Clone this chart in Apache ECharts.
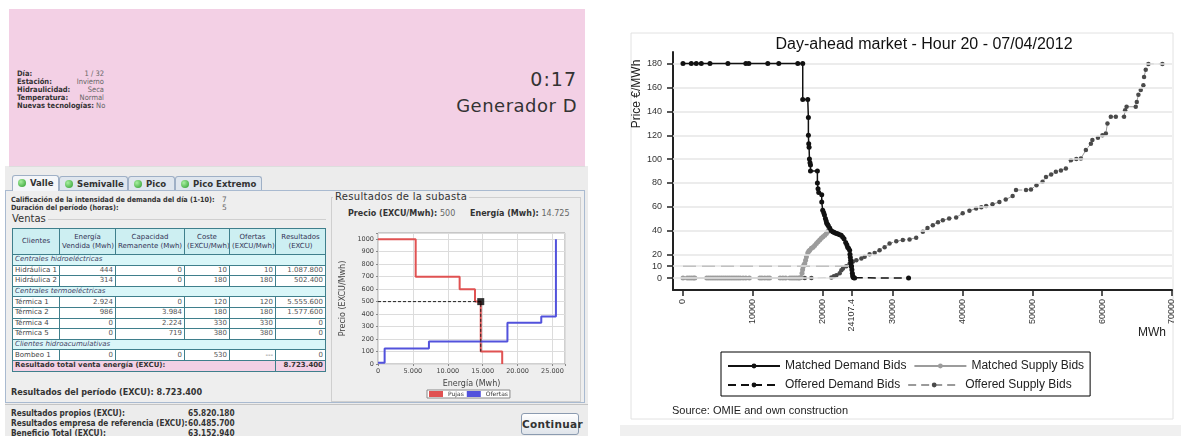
<!DOCTYPE html>
<html>
<head>
<meta charset="utf-8">
<script src="https://cdn.jsdelivr.net/npm/echarts@6/dist/echarts.min.js"></script>
<style>
  body { margin: 0; width: 1181px; height: 436px; overflow: hidden; background: #fff; font-family: "DejaVu Sans", sans-serif; position: relative; }
  .abs { position: absolute; white-space: nowrap; }
  .cond { font-family: "DejaVu Sans Condensed", "DejaVu Sans", sans-serif; font-stretch: condensed; }
  #pink { left: 9px; top: 9px; width: 576px; height: 157px; background: #f3d0e5; border-bottom: 1px solid #ddd; }
  #info { left: 17px; top: 70px; font-size: 7.5px; line-height: 8px; color: #333; }
  #info .l { font-weight: bold; display: inline-block; width: 56px; }
  #info .v { display: inline-block; width: 31px; text-align: right; color: #666; }
  #clock { right: 604px; top: 68px; font-size: 19px; color: #333; letter-spacing: 1px; }
  #gen { right: 604px; top: 95px; font-size: 18px; color: #333; letter-spacing: 0.5px; }
  #guiBg { left: 5px; top: 166px; width: 583px; height: 270px; background: #ececec; }
  .tab { top: 176px; height: 14px; border: 1px solid #9fb0c6; border-bottom: none; border-radius: 3px 3px 0 0; background: #dfe6ee; font-size: 9.5px; font-weight: bold; color: #333; line-height: 14px; box-sizing: border-box; padding-left: 5px; }
  .tab.sel { background: #f4f6f9; top: 175px; height: 16px; }
  .dot { display: inline-block; width: 8px; height: 8px; border-radius: 50%; background: radial-gradient(circle at 35% 35%, #a8f0a0, #2a9a2a); margin-right: 4px; vertical-align: -1px; }
  #panel { left: 5px; top: 190px; width: 580px; height: 213px; border: 1px solid #a9bad0; background: #eeeeee; box-sizing: border-box; }
  .lbl { font-size: 7.5px; font-weight: bold; color: #333; }
  .val { font-size: 7.5px; color: #666; }
  #ventas { left: 12px; top: 213px; font-size: 10px; color: #333; }
  #ventasLine { left: 48px; top: 219px; width: 278px; height: 0; border-top: 1px solid #cfcfcf; }
  table { position: absolute; left: 12px; top: 228px; width: 313px; border-collapse: collapse; table-layout: fixed; font-size: 7px; }
  td, th { border: 1px solid #3f7f8c; padding: 0 2px; height: 9.6px; line-height: 9px; white-space: nowrap; overflow: hidden; }
  th { font-weight: normal; background: #cdeff2; color: #335; height: 25px; line-height: 9px; text-align: center; }
  td { background: #fff; color: #555; text-align: right; }
  td.n { text-align: left; color: #444; }
  td.sec { background: #d9f6f8; font-style: italic; text-align: left; color: #446; }
  td.tot { background: #f3d0e5; font-weight: bold; color: #333; }
  #periodo { left: 11px; top: 387px; font-size: 9px; font-weight: bold; color: #333; }
  #sep { left: 5px; top: 404px; width: 583px; height: 0; border-top: 1px solid #c4c4c4; }
  .res { font-size: 8.2px; font-weight: bold; color: #333; }
  #btn { left: 521px; top: 413px; width: 58px; height: 22px; border: 1px solid #8b9bb0; border-radius: 3px; background: linear-gradient(#ffffff, #dfe4ea); font-size: 10.5px; font-weight: bold; color: #333; text-align: center; line-height: 21px; box-sizing: border-box; letter-spacing: 0.3px; }
  #subBox { left: 331px; top: 197px; width: 250px; height: 205px; border: 1px solid #cfcfcf; box-sizing: border-box; }
  #subTitle { left: 333px; top: 191px; font-size: 10px; color: #333; background: #eeeeee; padding: 0 2px; letter-spacing: 0.3px; }
  #auction { left: 330px; top: 222px; width: 252px; height: 180px; }
  #rightBg { left: 588px; top: 0; width: 593px; height: 436px; background: #fff; }
  #rightBand { left: 620px; top: 425px; width: 561px; height: 11px; background: #f0f0f0; }
  #market { left: 620px; top: 0; width: 561px; height: 436px; }
</style>
</head>
<body>
<div class="abs" id="rightBg"></div>
<div class="abs" id="rightBand"></div>
<div class="abs" id="guiBg"></div>
<div class="abs" id="pink"></div>
<div class="abs cond" id="info">
  <div><span class="l">Día:</span><span class="v">1 / 32</span></div>
  <div><span class="l">Estación:</span><span class="v">Invierno</span></div>
  <div><span class="l">Hidraulicidad:</span><span class="v">Seca</span></div>
  <div><span class="l">Temperatura:</span><span class="v">Normal</span></div>
  <div><span class="l" style="width:auto">Nuevas tecnologías:</span> <span style="color:#666">No</span></div>
</div>
<div class="abs" id="clock">0:17</div>
<div class="abs" id="gen">Generador D</div>

<div class="abs" id="panel"></div>
<div class="abs tab sel cond" style="left:12px;width:47px"><span class="dot"></span>Valle</div>
<div class="abs tab cond" style="left:59px;width:69px"><span class="dot"></span>Semivalle</div>
<div class="abs tab cond" style="left:128px;width:47px"><span class="dot"></span>Pico</div>
<div class="abs tab cond" style="left:175px;width:87px"><span class="dot"></span>Pico Extremo</div>

<div class="abs lbl cond" style="left:11px;top:195px;font-size:7.2px">Calificación de la intensidad de demanda del día (1-10):</div>
<div class="abs val" style="left:222px;top:195px">7</div>
<div class="abs lbl cond" style="left:11px;top:203px;font-size:7.2px">Duración del período (horas):</div>
<div class="abs val" style="left:222px;top:203px">5</div>
<div class="abs" id="ventasLine"></div>
<div class="abs" id="ventas">Ventas</div>
<table id="tbl"></table>
<div class="abs cond" id="periodo">Resultados del período (EXCU): 8.723.400</div>
<div class="abs" id="sep"></div>
<div class="abs res cond" style="left:11px;top:408px">Resultados propios (EXCU):</div>
<div class="abs res cond" style="left:188px;top:408px">65.820.180</div>
<div class="abs res cond" style="left:11px;top:418px">Resultados empresa de referencia (EXCU):</div>
<div class="abs res cond" style="left:188px;top:418px">60.485.700</div>
<div class="abs res cond" style="left:11px;top:428px">Beneficio Total (EXCU):</div>
<div class="abs res cond" style="left:188px;top:428px">63.152.940</div>
<div class="abs" id="btn">Continuar</div>

<div class="abs" id="subBox"></div>
<div class="abs" id="subTitle">Resultados de la subasta</div>
<div class="abs lbl" style="left:348px;top:209px;font-size:8px">Precio (EXCU/Mwh): <span class="val" style="font-weight:normal;font-size:8px">500</span></div>
<div class="abs lbl" style="left:470px;top:209px;font-size:8px">Energía (Mwh): <span class="val" style="font-weight:normal;font-size:8px">14.725</span></div>
<div class="abs" id="auction"></div>
<div class="abs" id="market"></div>

<script>
// ---- sales table ----
const tableHeader = ['Clientes', 'Energía<br>Vendida (Mwh)', 'Capacidad<br>Remanente (Mwh)', 'Coste<br>(EXCU/Mwh)', 'Ofertas<br>(EXCU/Mwh)', 'Resultados<br>(EXCU)'];
const tableRows = [
  ['Centrales hidroeléctricas'],
  ['Hidráulica 1', '444', '0', '10', '10', '1.087.800'],
  ['Hidráulica 2', '314', '0', '180', '180', '502.400'],
  ['Centrales termoeléctricas'],
  ['Térmica 1', '2.924', '0', '120', '120', '5.555.600'],
  ['Térmica 2', '986', '3.984', '180', '180', '1.577.600'],
  ['Térmica 4', '0', '2.224', '330', '330', '0'],
  ['Térmica 5', '0', '719', '380', '380', '0'],
  ['Clientes hidroacumulativas'],
  ['Bombeo 1', '0', '0', '530', '---', '0']
];
const totalRow = ['Resultado total venta energía (EXCU):', '8.723.400'];
const colWidths = [47, 56, 69, 45, 46, 50];

// ---- auction chart (left) ----
const pujas = [[0, 1000], [5400, 1000], [5400, 700], [11700, 700], [11700, 600], [13900, 600], [13900, 500], [14725, 500], [14725, 100], [17800, 100], [17800, 0]];
const ofertas = [[0, 10], [950, 10], [950, 125], [7300, 125], [7300, 180], [18550, 180], [18550, 330], [23400, 330], [23400, 380], [25500, 380], [25500, 1000]];
const clearing = [14725, 500];

// ---- day-ahead market chart (right) ----
const matchedDemand = [
  [0, 180.3], [1190, 180.3], [1900, 180.3], [2620, 180.3], [3860, 180.3], [6430, 180.3], [9000, 180.3], [9430, 180.3],
  [12140, 180.3], [13710, 180.3], [16430, 180.3], [17140, 180.3], [17140, 150], [17860, 150], [17950, 135], [17950, 120],
  [18000, 113], [18050, 110], [18100, 100], [18180, 97], [18250, 95], [18250, 90], [19240, 90], [19240, 80], [19330, 75],
  [19430, 72], [19860, 70], [19860, 64], [20000, 57], [20143, 55], [20250, 53], [20386, 50], [20500, 48], [20571, 46],
  [20700, 45], [20800, 44], [21000, 42], [21200, 40], [21430, 39], [21600, 38.5], [21800, 38], [22000, 37.5], [22200, 37],
  [22430, 36.5], [22650, 36], [22857, 34.5], [23050, 33], [23286, 30], [23450, 28], [23571, 26], [23700, 25], [23857, 23.5],
  [23900, 20], [23950, 17.6], [24000, 15], [24050, 12.6], [24107.4, 10]
];
const offeredDemand = [[24107.4, 10], [24180, 7], [24240, 4], [24286, 2], [24350, 1], [24430, 0.3], [24571, 0], [32290, 0]];
const matchedSupply = [
  [0, 0], [600, 0], [900, 0], [1200, 0], [1500, 0], [1700, 0], [3400, 0], [3700, 0], [4000, 0], [4300, 0], [4600, 0],
  [4900, 0], [5200, 0], [5500, 0], [5800, 0], [6100, 0], [6400, 0], [6700, 0], [7000, 0], [7300, 0], [7600, 0], [7900, 0],
  [8200, 0], [8600, 0], [9000, 0], [9500, 0], [11000, 0], [11300, 0], [11700, 0], [12100, 0], [12400, 0], [13900, 0],
  [14300, 0], [14700, 0], [15300, 0], [15600, 0], [15900, 0], [16200, 0], [16500, 0], [16700, 0], [16900, 0.5],
  [17040, 4], [17120, 7], [17190, 9.5], [17300, 11], [17430, 12.3], [17550, 15], [17670, 18], [17860, 21], [18000, 22.5],
  [18140, 23.5], [18380, 25], [18620, 26], [18850, 27.5], [19100, 29], [19330, 30.5], [19570, 32], [19800, 33.5],
  [20040, 34.7], [20300, 36], [20530, 37.5], [20700, 39], [20900, 41]
];
const offeredSupply = [
  [17430, 0], [18380, 0], [21240, 0.5], [21600, 1.5], [21960, 2.5], [22430, 4], [22670, 6.7], [22900, 8], [23380, 10],
  [23850, 12], [24330, 14], [24810, 15], [25530, 16.5], [26000, 18], [26710, 20], [27430, 21], [28140, 23.5], [28860, 26],
  [29570, 29], [30530, 31], [31470, 32], [32430, 32.5], [33380, 34], [34330, 39], [35000, 42], [35760, 44.5], [36500, 47],
  [37190, 48.7], [38100, 50], [39100, 51], [40040, 54.4], [41000, 56.5], [41960, 58.5], [42700, 59.5], [43390, 60.5],
  [44300, 62], [45290, 64], [46200, 66], [47190, 69], [47670, 74], [49100, 74], [49810, 74.5], [50600, 78], [51470, 81],
  [51960, 85], [52700, 87], [53380, 89.4], [54100, 90.5], [54810, 92], [55530, 99], [56300, 100], [56960, 100.5],
  [57670, 107.6], [58390, 113], [58600, 116], [59400, 118], [60040, 120], [60530, 121.6], [60760, 130], [61240, 135.5],
  [61960, 135.5], [63140, 135.5], [63290, 141], [63500, 144], [64810, 144], [64960, 148], [65190, 154], [65530, 158],
  [65900, 162], [66000, 169], [66240, 175], [66620, 180], [68620, 180]
];
const priceLine = [[0, 10], [24107.4, 10]];
const xTicks = [0, 10000, 20000, 24107.4, 30000, 40000, 50000, 60000, 70000];
const yTicks = [0, 10, 20, 40, 60, 80, 100, 120, 140, 160, 180];

// build table
const tbl = document.getElementById('tbl');
let html = '<colgroup>' + colWidths.map(w => '<col style="width:' + w + 'px">').join('') + '</colgroup>';
html += '<tr>' + tableHeader.map(h => '<th>' + h + '</th>').join('') + '</tr>';
tableRows.forEach(r => {
  if (r.length === 1) {
    html += '<tr><td class="sec" colspan="6">' + r[0] + '</td></tr>';
  } else {
    html += '<tr><td class="n">' + r[0] + '</td>' + r.slice(1).map(v => '<td>' + v + '</td>').join('') + '</tr>';
  }
});
html += '<tr><td class="tot" colspan="5" style="text-align:left">' + totalRow[0] + '</td><td class="tot">' + totalRow[1] + '</td></tr>';
tbl.innerHTML = html;

const dots = v => String(v).replace(/\B(?=(\d{3})+(?!\d))/g, '.');

const auction = echarts.init(document.getElementById('auction'));
auction.setOption({
  animation: false,
  textStyle: { fontFamily: 'DejaVu Sans' },
  grid: { left: 48, right: 17, top: 11, bottom: 38, show: true, backgroundColor: '#fff', borderColor: '#a0a0a0', borderWidth: 1 },
  legend: {
    data: ['Pujas', 'Ofertas'],
    left: 97, top: 168,
    itemWidth: 14, itemHeight: 6, itemGap: 3,
    padding: [1, 2],
    borderColor: '#888', borderWidth: 1, backgroundColor: '#fff',
    textStyle: { fontSize: 6, color: '#333' },
    icon: 'rect'
  },
  xAxis: {
    type: 'value', min: 0, max: 26800, interval: 5000,
    name: 'Energía (Mwh)', nameLocation: 'middle', nameGap: 14,
    nameTextStyle: { fontSize: 8, color: '#444' },
    axisLine: { show: false },
    axisTick: { length: 2, lineStyle: { color: '#888' } },
    axisLabel: { fontSize: 6.5, color: '#444', margin: 4, formatter: v => (v % 5000 === 0 ? dots(v) : '') },
    splitLine: { lineStyle: { color: '#dcdcdc' } }
  },
  yAxis: {
    type: 'value', min: 0, max: 1050, interval: 100,
    name: 'Precio (EXCU/Mwh)', nameLocation: 'middle', nameGap: 31,
    nameTextStyle: { fontSize: 8, color: '#444' },
    axisLine: { show: false },
    axisTick: { length: 2, lineStyle: { color: '#888' } },
    axisLabel: { fontSize: 6.5, color: '#444', margin: 4, formatter: v => (v % 100 === 0 ? String(v) : '') },
    splitLine: { lineStyle: { color: '#dcdcdc' } }
  },
  series: [
    { name: 'Pujas', type: 'line', data: pujas, symbol: 'none', lineStyle: { color: '#e05252', width: 2 }, itemStyle: { color: '#e05252' } },
    { name: 'Ofertas', type: 'line', data: ofertas, symbol: 'none', lineStyle: { color: '#5252dc', width: 2 }, itemStyle: { color: '#5252dc' } },
    { name: 'guide', type: 'line', data: [[0, clearing[1]], clearing, [clearing[0], 100]], symbol: 'none', lineStyle: { color: '#222', width: 1, type: [3, 2] }, z: 3 },
    { name: 'precio', type: 'scatter', data: [clearing], symbol: 'rect', symbolSize: 7, itemStyle: { color: '#000' }, z: 4 }
  ]
});

const market = echarts.init(document.getElementById('market'));
market.setOption({
  animation: false,
  textStyle: { fontFamily: 'Liberation Sans' },
  grid: { left: 53, right: 9, top: 52, bottom: 146 },
  graphic: [
    { type: 'rect', shape: { x: 11, y: 33, width: 542, height: 386 }, style: { fill: 'none', stroke: '#e2e2e2', lineWidth: 1 }, silent: true },
    { type: 'text', x: 304, y: 45, style: { text: 'Day-ahead market - Hour 20 - 07/04/2012', font: '16px "Liberation Sans"', fill: '#111', textAlign: 'center', textVerticalAlign: 'middle' } },
    { type: 'text', x: 17, y: 94, rotation: Math.PI / 2, style: { text: 'Price €/MWh', font: '12px "Liberation Sans"', fill: '#222', textAlign: 'center', textVerticalAlign: 'middle' } },
    { type: 'text', x: 546, y: 333, style: { text: 'MWh', font: '12px "Liberation Sans"', fill: '#222', textAlign: 'right', textVerticalAlign: 'middle' } },
    { type: 'text', x: 52, y: 411, style: { text: 'Source: OMIE and own construction', font: '11px "Liberation Sans"', fill: '#222', textAlign: 'left', textVerticalAlign: 'middle' } }
  ],
  legend: {
    data: ['Matched Demand Bids', 'Matched Supply Bids', 'Offered Demand Bids', 'Offered Supply Bids'],
    left: 101, top: 352, width: 360,
    itemWidth: 52, itemHeight: 6, itemGap: 7,
    padding: [8, 6, 5, 6],
    borderColor: '#000', borderWidth: 1,
    textStyle: { fontSize: 12, color: '#222', width: 120 }
  },
  xAxis: {
    type: 'value', min: -1430, max: 70000,
    axisLine: { onZero: false, lineStyle: { color: '#222', width: 2 } },
    axisTick: { customValues: xTicks, length: 6, lineStyle: { color: '#222', width: 1.5 } },
    axisLabel: { customValues: xTicks, rotate: 90, fontSize: 9, color: '#333', margin: 9, formatter: v => String(v) },
    splitLine: { show: false }
  },
  yAxis: {
    type: 'value', min: -10, max: 190,
    axisLine: { onZero: false, lineStyle: { color: '#222', width: 2 } },
    axisTick: { customValues: yTicks, length: 6, lineStyle: { color: '#222', width: 1.5 } },
    axisLabel: { customValues: yTicks, fontSize: 9, color: '#333', margin: 11 },
    splitLine: { show: false }
  },
  series: [
    {
      name: 'grid', type: 'line', data: [], silent: true, z: 0,
      markLine: { silent: true, symbol: ['none', 'none'], label: { show: false }, animation: false,
        lineStyle: { color: '#e6e6e6', width: 1.5, type: 'solid' },
        data: yTicks.map(v => ({ yAxis: v })) }
    },
    { name: 'clearing price', type: 'line', data: priceLine, symbol: 'none', lineStyle: { color: '#555', width: 1.5, type: [13, 6] }, z: 2 },
    { name: 'Offered Supply Bids', type: 'line', data: offeredSupply, symbol: 'circle', symbolSize: 4.5, showAllSymbol: true,
      lineStyle: { color: '#9a9a9a', width: 1, type: [8, 5] }, itemStyle: { color: '#4a4a4a' }, z: 3 },
    { name: 'Matched Supply Bids', type: 'line', data: matchedSupply, symbol: 'circle', symbolSize: 5, showAllSymbol: true,
      lineStyle: { color: '#9c9c9c', width: 1.5 }, itemStyle: { color: '#9c9c9c' }, z: 4 },
    { name: 'Offered Demand Bids', type: 'line', data: offeredDemand, symbol: 'circle', symbolSize: 5, showAllSymbol: true,
      lineStyle: { color: '#111', width: 1.5, type: [8, 5] }, itemStyle: { color: '#111' }, z: 5 },
    { name: 'Matched Demand Bids', type: 'line', data: matchedDemand, symbol: 'circle', symbolSize: 5, showAllSymbol: true,
      lineStyle: { color: '#111', width: 1.5 }, itemStyle: { color: '#111' }, z: 6 }
  ]
});
</script>
</body>
</html>
